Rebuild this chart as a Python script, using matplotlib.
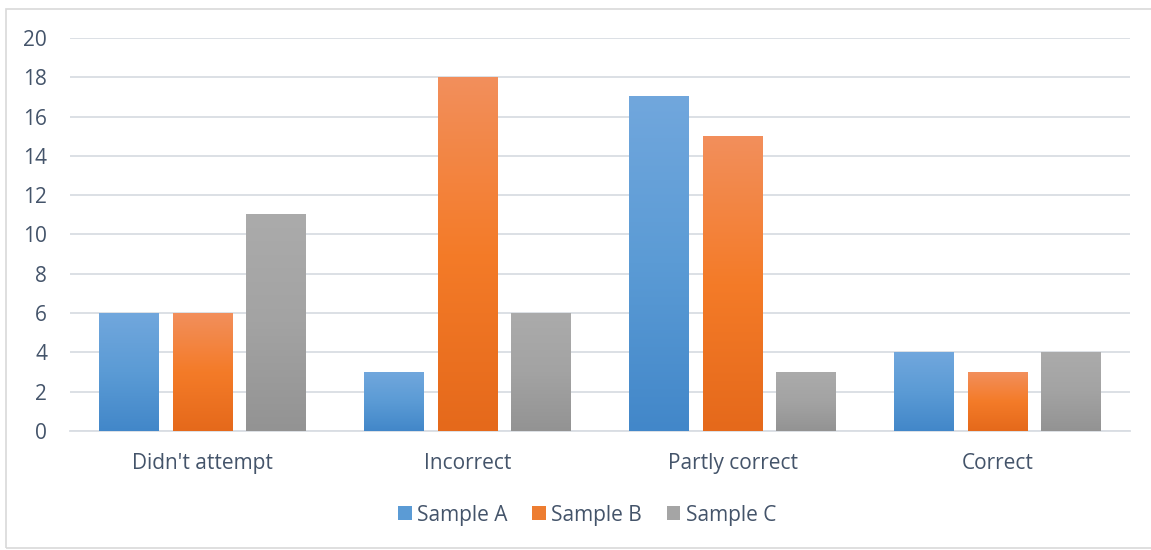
import numpy as np
import matplotlib.pyplot as plt
from matplotlib.colors import LinearSegmentedColormap
from matplotlib.patches import Patch, Rectangle

categories = ["Didn't attempt", "Incorrect", "Partly correct", "Correct"]
series = ["Sample A", "Sample B", "Sample C"]
sample_a = [6, 3, 17, 4]
sample_b = [6, 18, 15, 3]
sample_c = [11, 6, 3, 4]

# top, middle, bottom colours of each bar gradient
grads = [("#71a7dd", "#5b9bd5", "#4287c9"),
         ("#f28f5c", "#f47b28", "#e5691b"),
         ("#ababab", "#a3a3a3", "#939393")]
base = ["#5b9bd5", "#ed7d31", "#a5a5a5"]
text_col = "#44546a"
grid_col = "#d9dde3"

plt.rcParams['font.family'] = ['Open Sans', 'DejaVu Sans']

fig = plt.figure(figsize=(11.51, 5.5), dpi=100)
ax = fig.add_axes([70/1151, 119/550, 1060/1151, 393/550])

x = np.arange(len(categories))
w = 60/265
step = 73.5/265
grad = np.linspace(0, 1, 256).reshape(-1, 1)

for i, vals in enumerate([sample_a, sample_b, sample_c]):
    bars = ax.bar(x + (i - 1)*step, vals, w, color=base[i], zorder=2)
    cmap = LinearSegmentedColormap.from_list('g%d' % i, list(grads[i]))
    for b in bars:
        x0, y0 = b.get_x(), b.get_y()
        x1, y1 = x0 + b.get_width(), y0 + b.get_height()
        ax.imshow(grad, cmap=cmap, extent=(x0, x1, y0, y1), origin='upper',
                  aspect='auto', zorder=3, interpolation='bicubic')

ax.set_xlim(-0.5, len(categories) - 0.5)
ax.set_ylim(0, 20)
ax.set_yticks(range(0, 21, 2))
ax.set_xticks(x)
ax.set_xticklabels(categories)
ax.yaxis.grid(True, color=grid_col, lw=1.3, zorder=0)
ax.set_axisbelow(True)
for s in ['top', 'right', 'left']:
    ax.spines[s].set_visible(False)
ax.spines['bottom'].set_color(grid_col)
ax.spines['bottom'].set_linewidth(1.3)
ax.tick_params(axis='both', length=0, labelsize=15, colors=text_col)
ax.tick_params(axis='x', pad=15.5)
ax.tick_params(axis='y', pad=16.5)

handles = [Patch(facecolor=base[i], label=series[i]) for i in range(3)]
leg = fig.legend(handles=handles, loc='center', bbox_to_anchor=(587/1151, 1 - 515/550),
                 ncol=3, frameon=False, fontsize=15, handlelength=0.65, handleheight=0.65,
                 handletextpad=0.25, columnspacing=1.2)
for t in leg.get_texts():
    t.set_color(text_col)

fig.patches.append(Rectangle((6/1151, 2/550), 1.0, 1 - 11/550, transform=fig.transFigure,
                             fill=False, edgecolor="#d9d9d9", lw=1.2))

fig.savefig('out.png', dpi=100)
